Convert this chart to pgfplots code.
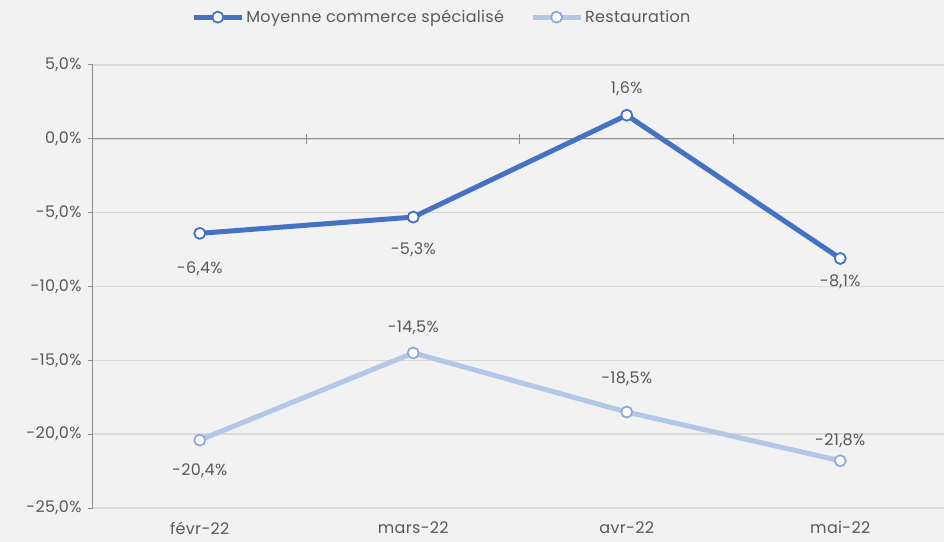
\documentclass[border=0pt]{standalone}
\usepackage{pgfplots}
\pgfplotsset{compat=1.18}
\usepackage{fontspec}
\setmainfont{Poppins}[LetterSpace=2]
\definecolor{bg}{HTML}{F2F2F2}
\definecolor{cblue}{HTML}{4472C4}
\definecolor{clight}{HTML}{B4C7E7}
\definecolor{clightedge}{HTML}{8FAADC}
\definecolor{gridgray}{HTML}{D9D9D9}
\definecolor{axisgray}{HTML}{8C8C8C}
\definecolor{textgray}{HTML}{595959}
\newcommand{\lblfont}{\fontsize{16bp}{19bp}\selectfont}

\begin{document}
\begin{tikzpicture}
\useasboundingbox (-93bp,-34bp) rectangle (851bp,508bp);
\fill[bg] (-93bp,-34bp) rectangle (851bp,508bp);
\begin{axis}[
  at={(0,0)}, anchor=south west,
  scale only axis, width=851bp, height=443bp,
  xmin=-0.5, xmax=3.486, ymin=-25, ymax=5,
  ytick={-25,-20,...,5},
  xtick={0,1,2,3},
  xticklabels={févr-22,mars-22,avr-22,mai-22},
  axis lines*=left,
  x axis line style={draw=none},
  y axis line style={axisgray, line width=1bp},
  xtick style={draw=none},
  ytick style={axisgray, line width=1bp},
  tick align=outside, major tick length=5bp,
  ymajorgrids, grid style={gridgray, line width=1.5bp},
  yticklabel={\pgfmathprintnumber{\tick}\%},
  /pgf/number format/.cd, use comma, fixed, fixed zerofill, precision=1, assume math mode=true,
  /pgfplots/.cd,
  ticklabel style={font=\lblfont, text=textgray},
  yticklabel style={xshift=-3bp},
  xticklabel style={yshift=-5bp},
  legend style={at={(axis description cs:0.41,1.108)}, anchor=center,
    draw=none, fill=none, font=\lblfont, text=textgray,
    legend columns=2, /tikz/every even column/.append style={column sep=24bp}},
  legend image code/.code={\draw[#1, mark repeat=2, mark phase=2]
    plot coordinates {(0bp,0bp)(24bp,0bp)(48bp,0bp)};},
  every axis plot/.append style={line width=5bp, mark=*, mark size=5.5bp},
  nodes near coords={\pgfmathprintnumber{\pgfplotspointmeta}\%},
  point meta=y,
  visualization depends on={value \thisrow{dy}\as\dy},
  nodes near coords style={anchor=center, yshift=\dy bp, font=\lblfont, text=textgray},
]
\draw[axisgray, line width=1bp] (axis cs:-0.5,0) -- (axis cs:3.486,0);
\draw[axisgray, line width=1bp] ([yshift=-5bp]axis cs:0.5,0) -- ([yshift=5bp]axis cs:0.5,0);
\draw[axisgray, line width=1bp] ([yshift=-5bp]axis cs:1.5,0) -- ([yshift=5bp]axis cs:1.5,0);
\draw[axisgray, line width=1bp] ([yshift=-5bp]axis cs:2.5,0) -- ([yshift=5bp]axis cs:2.5,0);

\addplot[cblue, mark options={fill=white, draw=cblue, line width=1.8bp}] table[x=x, y=y] {
x y dy
0 -6.4 -35
1 -5.3 -33
2 1.6 26
3 -8.1 -23
};
\addlegendentry{Moyenne commerce spécialisé}

\addplot[clight, mark options={fill=white, draw=clightedge, line width=1.8bp}] table[x=x, y=y] {
x y dy
0 -20.4 -31
1 -14.5 25
2 -18.5 33
3 -21.8 20
};
\addlegendentry{Restauration}
\end{axis}
\end{tikzpicture}
\end{document}
